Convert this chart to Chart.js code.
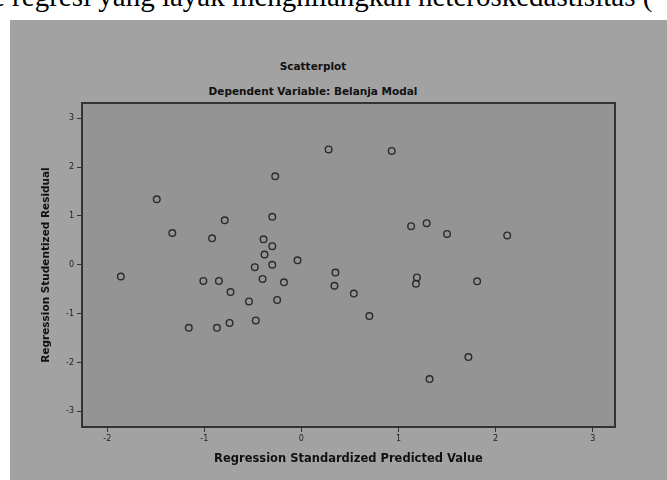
<!DOCTYPE html>
<html>
<head>
<meta charset="utf-8">
<script src="https://cdn.jsdelivr.net/npm/chart.js@4.4.1/dist/chart.umd.min.js"></script>
<style>
  body { margin: 0; background: #fff; width: 667px; height: 480px; overflow: hidden; position: relative; }
  #caption { position: absolute; left: -8px; top: -18px; font-family: 'Liberation Serif', serif; font-size: 29px; line-height: 29px; white-space: nowrap; color: #000; }
  #panel { position: absolute; left: 10px; top: 20px; width: 657px; height: 460px; background: #a2a2a2; }
  #chart { position: absolute; left: 0; top: 0; }
  .title { position: absolute; width: 400px; left: 113px; text-align: center; font-family: 'DejaVu Sans', sans-serif; font-weight: bold; font-size: 10.5px; line-height: 14px; color: #111; }
</style>
</head>
<body>
<div id="caption">e regresi yang layak menghilangkan heteroskedastisitas (</div>
<div id="panel"></div>
<div class="title" style="top:59px">Scatterplot</div>
<div class="title" style="top:84px">Dependent Variable: Belanja Modal</div>
<canvas id="chart" width="667" height="480"></canvas>
<script>
// tick labels
const xTickValues = [-2, -1, 0, 1, 2, 3];
const yTickValues = [-3, -2, -1, 0, 1, 2, 3];

// regression standardized predicted value (x) / studentized residual (y)
const predicted = [-1.86, -1.49, -1.33, -1.16, -1.01, -0.92, -0.85, -0.87, -0.79, -0.73,
                   -0.74, -0.54, -0.48, -0.47, -0.40, -0.39, -0.38, -0.30, -0.30, -0.30,
                   -0.27, -0.25, -0.18, -0.04, 0.28, 0.34, 0.35, 0.54, 0.70, 0.93,
                   1.13, 1.19, 1.18, 1.29, 1.50, 1.72, 1.81, 1.32, 2.12];
const residual = [-0.24, 1.34, 0.65, -1.29, -0.33, 0.54, -0.33, -1.29, 0.91, -0.56,
                  -1.19, -0.75, -0.05, -1.14, -0.29, 0.52, 0.21, 0.98, 0.38, 0.00,
                  1.81, -0.72, -0.36, 0.09, 2.36, -0.43, -0.16, -0.59, -1.05, 2.33,
                  0.79, -0.26, -0.39, 0.85, 0.63, -1.89, -0.34, -2.34, 0.60];

const points = predicted.map((x, i) => ({x: x, y: residual[i]}));

// nền vùng vẽ + khung
const plotBox = {
  id: 'plotBox',
  beforeDraw(chart) {
    const {ctx, chartArea: a} = chart;
    ctx.save();
    ctx.fillStyle = '#949494';
    ctx.fillRect(a.left, a.top, a.right - a.left, a.bottom - a.top);
    ctx.restore();
  },
  afterDraw(chart) {
    const {ctx, chartArea: a} = chart;
    ctx.save();
    ctx.strokeStyle = '#333';
    ctx.lineWidth = 2;
    ctx.strokeRect(a.left, a.top, a.right - a.left, a.bottom - a.top);
    ctx.restore();
  }
};

const tickFont = {family: 'DejaVu Sans', size: 8};
const titleFont = {family: 'DejaVu Sans', size: 10.5, weight: 'bold'};

new Chart(document.getElementById('chart'), {
  type: 'scatter',
  data: {
    datasets: [{
      data: points,
      pointStyle: 'circle',
      pointRadius: 3.3,
      pointBorderWidth: 1.4,
      pointBorderColor: '#2b2b2b',
      pointBackgroundColor: 'rgba(0,0,0,0)'
    }]
  },
  options: {
    responsive: false,
    animation: false,
    layout: {padding: {top: 103, right: 52, bottom: 0, left: 0}},
    plugins: {legend: {display: false}, tooltip: {enabled: false}},
    scales: {
      x: {
        type: 'linear',
        min: -2.26,
        max: 3.23,
        afterBuildTicks: s => { s.ticks = xTickValues.map(v => ({value: v})); },
        afterFit: s => { s.height = 53; },
        grid: {drawOnChartArea: false, drawTicks: true, tickLength: 5, color: '#333'},
        border: {display: false},
        ticks: {color: '#222', font: tickFont, padding: 2},
        title: {display: true, text: 'Regression Standardized Predicted Value', color: '#111', font: {family: 'DejaVu Sans', size: 11.5, weight: 'bold'}, padding: {top: 0, bottom: 14}}
      },
      y: {
        type: 'linear',
        min: -3.32,
        max: 3.31,
        afterBuildTicks: s => { s.ticks = yTickValues.map(v => ({value: v})); },
        afterFit: s => { s.width = 82; },
        grid: {drawOnChartArea: false, drawTicks: true, tickLength: 5, color: '#333'},
        border: {display: false},
        ticks: {color: '#222', font: tickFont, padding: 3},
        title: {display: true, text: 'Regression Studentized Residual', color: '#111', font: titleFont, padding: {top: 40, bottom: 0}}
      }
    }
  },
  plugins: [plotBox]
});
</script>
</body>
</html>
